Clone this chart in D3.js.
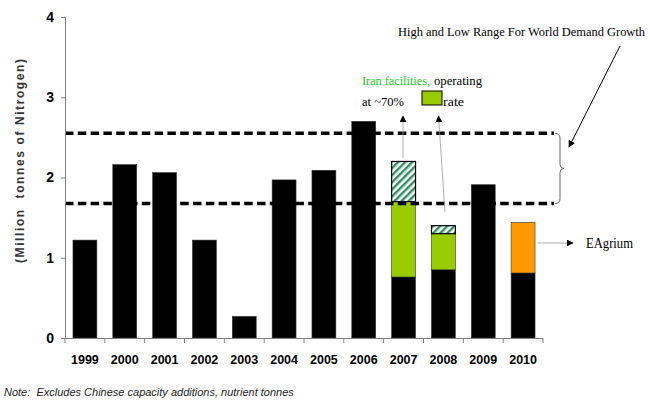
<!DOCTYPE html>
<html>
<head>
<meta charset="utf-8">
<script src="https://cdn.jsdelivr.net/npm/d3@7/dist/d3.min.js"></script>
<style>
  html, body { margin: 0; padding: 0; background: #fff; }
  svg { display: block; }
  .sans { font-family: "Liberation Sans", Arial, sans-serif; }
  .serif { font-family: "Liberation Serif", "Times New Roman", serif; }
</style>
</head>
<body>
<svg id="chart" width="650" height="400"></svg>
<script>
// Capacity additions by year (million tonnes N)
const years = ['1999','2000','2001','2002','2003','2004','2005','2006','2007','2008','2009','2010'];
const baseCapacity  = [1.22, 2.16, 2.06, 1.22, 0.27, 1.97, 2.09, 2.70, 0.76, 0.85, 1.91, 0.81];
const iranOperating = [0, 0, 0, 0, 0, 0, 0, 0, 0.94, 0.45, 0, 0];   // Iran at ~70% operating rate
const iranRemaining = [0, 0, 0, 0, 0, 0, 0, 0, 0.50, 0.10, 0, 0];   // balance of Iran capacity
const agrium        = [0, 0, 0, 0, 0, 0, 0, 0, 0, 0, 0, 0.63];
const demandRange   = [1.675, 2.55];                                // low / high world demand growth
const yTicks = [0, 1, 2, 3, 4];

const table = years.map((yr, i) => ({
  year: yr,
  base: baseCapacity[i],
  iranOp: iranOperating[i],
  iranRest: iranRemaining[i],
  agrium: agrium[i]
}));
const keys = ['base', 'iranOp', 'iranRest', 'agrium'];
const fills = { base: '#000000', iranOp: '#99cc00', iranRest: 'url(#hatch)', agrium: '#ff9900' };
const strokes = { base: '#333333', iranOp: '#333333', iranRest: '#000000', agrium: '#333333' };

const svg = d3.select('#chart');
const plotLeft = 65, plotRight = 543, plotTop = 17, plotBottom = 338;

const x = d3.scaleBand().domain(years).range([plotLeft, plotRight]).paddingInner(0.4).paddingOuter(0.2);
const y = d3.scaleLinear().domain([0, 4]).range([plotBottom, plotTop]);

// hatch pattern for the remaining Iran capacity
const defs = svg.append('defs');
const pat = defs.append('pattern')
  .attr('id', 'hatch').attr('patternUnits', 'userSpaceOnUse')
  .attr('width', 5).attr('height', 5)
  .attr('patternTransform', 'rotate(45)');
pat.append('rect').attr('width', 5).attr('height', 5).attr('fill', '#ffffff');
pat.append('rect').attr('width', 2.4).attr('height', 5).attr('fill', '#2f9160');

defs.append('marker').attr('id', 'arrow')
  .attr('viewBox', '0 0 10 10').attr('refX', 9).attr('refY', 5)
  .attr('markerWidth', 7).attr('markerHeight', 7).attr('orient', 'auto')
  .attr('markerUnits', 'userSpaceOnUse')
  .append('path').attr('d', 'M0,0 L10,5 L0,10 Z').attr('fill', '#000');

// stacked bars
const stacked = d3.stack().keys(keys)(table);
svg.append('g').selectAll('g').data(stacked).join('g')
  .each(function(layer) {
    d3.select(this).selectAll('rect')
      .data(layer.filter(d => d[1] - d[0] > 0))
      .join('rect')
      .attr('x', d => x(d.data.year))
      .attr('width', x.bandwidth())
      .attr('y', d => y(d[1]))
      .attr('height', d => y(d[0]) - y(d[1]))
      .attr('fill', fills[layer.key])
      .attr('stroke', strokes[layer.key])
      .attr('stroke-width', layer.key === 'iranRest' ? 1.2 : 0.6);
  });

// demand growth range lines
svg.append('g').selectAll('line').data(demandRange).join('line')
  .attr('x1', plotLeft).attr('x2', 554)
  .attr('y1', d => y(d)).attr('y2', d => y(d))
  .attr('stroke', '#000').attr('stroke-width', 3.5)
  .attr('stroke-dasharray', '8.5,4.3');

// brace spanning the range
const yHi = y(demandRange[1]), yLo = y(demandRange[0]), yMid = (yHi + yLo) / 2;
svg.append('path')
  .attr('d', `M555,${yHi} Q560,${yHi} 560,${yHi + 5} L560,${yMid - 4} Q560,${yMid} 564,${yMid}
              Q560,${yMid} 560,${yMid + 4} L560,${yLo - 5} Q560,${yLo} 555,${yLo}`)
  .attr('fill', 'none').attr('stroke', '#666').attr('stroke-width', 1);

// axes
const yAxis = svg.append('g').attr('transform', `translate(${plotLeft},0)`)
  .call(d3.axisLeft(y).tickValues(yTicks).tickFormat(d3.format('d')).tickSize(4).tickPadding(7));
yAxis.attr('font-family', null);
yAxis.select('.domain').attr('stroke', '#808080');
yAxis.selectAll('.tick line').attr('stroke', '#808080');
yAxis.selectAll('text').attr('class', 'sans')
  .attr('font-size', 14).attr('font-weight', 'bold').attr('fill', '#000');

const xAxis = svg.append('g').attr('transform', `translate(0,${plotBottom})`)
  .call(d3.axisBottom(x).tickSize(0).tickPadding(17));
xAxis.attr('font-family', null);
xAxis.select('.domain').attr('d', `M${plotLeft},0.5H${plotRight}`).attr('stroke', '#808080');
xAxis.selectAll('text').attr('class', 'sans')
  .attr('font-size', 12.5).attr('font-weight', 'bold').attr('fill', '#000');
// category separators below the axis
const bounds = years.map(yr => x(yr) - x.step() * x.paddingInner() / 2).concat([plotRight]);
bounds[0] = plotLeft;
xAxis.append('g').selectAll('line').data(bounds).join('line')
  .attr('x1', d => d).attr('x2', d => d).attr('y1', 0).attr('y2', 5)
  .attr('stroke', '#808080');

// y axis title
svg.append('text').attr('class', 'sans')
  .attr('transform', 'translate(24,161) rotate(-90)')
  .attr('text-anchor', 'middle')
  .attr('font-size', 12).attr('font-weight', 'bold').attr('fill', '#333')
  .attr('xml:space', 'preserve')
  .attr('textLength', 204).attr('lengthAdjust', 'spacing')
  .text('(Million  tonnes of Nitrogen)');

// annotations
function note(txt, xPos, yPos, size, width, color) {
  return svg.append('text').attr('class', 'serif')
    .attr('x', xPos).attr('y', yPos)
    .attr('font-size', size).attr('fill', color || '#000')
    .attr('textLength', width).attr('lengthAdjust', 'spacingAndGlyphs')
    .text(txt);
}
note('High and Low Range For World Demand Growth', 398, 36, 12.8, 247);
svg.append('line').attr('x1', 620).attr('y1', 46).attr('x2', 569).attr('y2', 147)
  .attr('stroke', '#000').attr('stroke-width', 1).attr('marker-end', 'url(#arrow)');

note('Iran facilities,', 362, 85, 13.5, 68, '#22cc22');
note('operating', 434, 85, 13.5, 48);
note('at ~70%', 362, 106, 13.5, 42);
svg.append('rect').attr('x', 422).attr('y', 91).attr('width', 20).attr('height', 14)
  .attr('fill', '#99cc00').attr('stroke', '#000').attr('stroke-width', 1);
note('rate', 443, 106, 13.5, 21);

const thin = svg.append('g').attr('stroke', '#999').attr('stroke-width', 0.8);
thin.append('line').attr('x1', 403).attr('y1', 158).attr('x2', 403).attr('y2', 116)
  .attr('marker-end', 'url(#arrow)');
thin.append('line').attr('x1', 445).attr('y1', 212).attr('x2', 438.5).attr('y2', 116)
  .attr('marker-end', 'url(#arrow)');

svg.append('line').attr('x1', 538).attr('y1', 243).attr('x2', 573).attr('y2', 243)
  .attr('stroke', '#999').attr('stroke-width', 0.8).attr('marker-end', 'url(#arrow)');
note('EAgrium', 586, 248, 14, 47);

svg.append('text').attr('class', 'sans').attr('x', 4).attr('y', 396)
  .attr('font-size', 11)
  .attr('font-style', 'italic').attr('fill', '#222')
  .attr('xml:space', 'preserve')
  .text('Note:  Excludes Chinese capacity additions, nutrient tonnes');
</script>
</body>
</html>
